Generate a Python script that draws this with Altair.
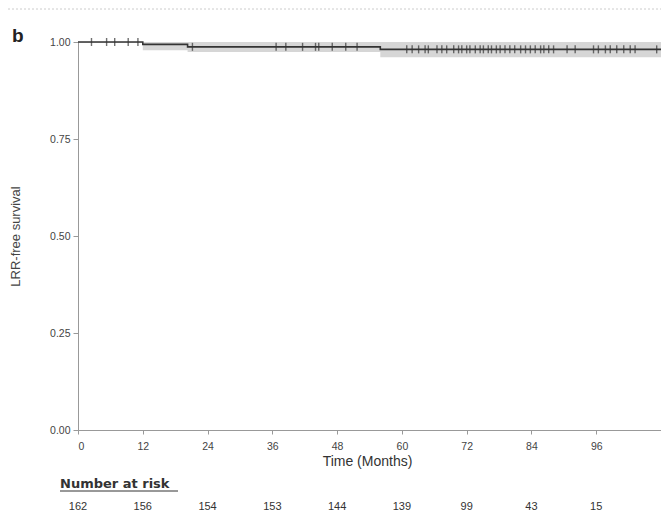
import altair as alt
import pandas as pd

# Kaplan-Meier step estimate (months, survival)
step_time = [0, 12.0, 20.3, 56.0, 108.0]
step_surv = [1.0, 0.9938, 0.9875, 0.981, 0.981]
ci_lower = [1.0, 0.979, 0.974, 0.961, 0.961]
ci_upper = [1.0, 1.0, 1.0, 1.0, 1.0]

# censoring times (months)
censor_times = [2.5, 5.3, 6.8, 9.3, 11.1, 21.2, 36.7, 38.5, 41.6, 44.0, 44.6, 47.1,
                49.6, 51.7, 60.9, 61.9, 63.1, 64.3, 64.9, 66.5, 67.4, 68.3, 69.6,
                70.5, 71.1, 72.0, 72.6, 73.6, 74.5, 75.1, 76.0, 76.6, 77.5, 78.2,
                79.1, 80.0, 80.9, 82.0, 82.9, 83.8, 84.7, 85.7, 86.3, 87.2, 88.1,
                90.6, 92.1, 95.5, 96.4, 97.7, 98.6, 99.8, 101.1, 102.3, 103.2,
                107.2]

risk_times = [0, 12, 24, 36, 48, 60, 72, 84, 96]
risk_counts = [162, 156, 154, 153, 144, 139, 99, 43, 15]
x_ticks = [0, 12, 24, 36, 48, 60, 72, 84, 96]
y_ticks = [0.0, 0.25, 0.5, 0.75, 1.0]


def surv_at(t):
    s = step_surv[0]
    for tt, ss in zip(step_time, step_surv):
        if t >= tt:
            s = ss
    return s


km = pd.DataFrame({"t": step_time, "s": step_surv, "lo": ci_lower, "hi": ci_upper})
cens = pd.DataFrame({"t": censor_times, "s": [surv_at(t) for t in censor_times]})
risk = pd.DataFrame({"t": risk_times, "n": [str(n) for n in risk_counts]})

NARROW = "Liberation Sans Narrow, Arial Narrow, Liberation Sans, sans-serif"
W, H = 583, 388

xscale = alt.Scale(domain=[0, 108], nice=False, zero=False)
yscale = alt.Scale(domain=[0, 1], nice=False)

xaxis = alt.Axis(values=x_ticks, format="d", title="Time (Months)", titleX=289,
                 titleFont="Liberation Sans", titleFontSize=14, titleFontWeight="normal",
                 titleColor="#333", titlePadding=3, labelFont=NARROW, labelFontSize=10.5,
                 labelColor="#444", tickColor="#999", domainColor="#999", tickSize=4,
                 labelPadding=7, grid=False)
yaxis = alt.Axis(values=y_ticks, format=".2f", title="LRR-free survival",
                 titleFont="Liberation Sans", titleFontSize=13, titleFontWeight="normal",
                 titleColor="#444", titlePadding=27, labelFont=NARROW, labelFontSize=10.5,
                 labelColor="#444", tickColor="#999", domainColor="#999", tickSize=5,
                 labelPadding=3, grid=False)

band = alt.Chart(km).mark_area(interpolate="step-after", color="#d6d6d6", opacity=1).encode(
    x=alt.X("t:Q", scale=xscale, axis=xaxis),
    y=alt.Y("lo:Q", scale=yscale, axis=yaxis),
    y2="hi:Q",
)
line = alt.Chart(km).mark_line(interpolate="step-after", color="#333333", strokeWidth=1.6).encode(
    x=alt.X("t:Q", scale=xscale),
    y=alt.Y("s:Q", scale=yscale),
)
ticks = alt.Chart(cens).mark_tick(orient="vertical", color="#333333", size=8, thickness=1.4).encode(
    x=alt.X("t:Q", scale=xscale),
    y=alt.Y("s:Q", scale=yscale),
)
risk_text = alt.Chart(risk).mark_text(font=NARROW, fontSize=11, color="#333", baseline="top").encode(
    x=alt.X("t:Q", scale=xscale),
    y=alt.value(H + 71),
    text="n:N",
)
risk_title = alt.Chart(pd.DataFrame({"l": ["Number at risk"]})).mark_text(
    font="DejaVu Sans", fontSize=13, fontWeight="bold", color="#333", align="left",
    baseline="alphabetic").encode(x=alt.value(-18), y=alt.value(H + 58), text="l:N")
risk_ul = alt.Chart(pd.DataFrame({"a": [0]})).mark_rule(color="#333", strokeWidth=1).encode(
    x=alt.value(-18), x2=alt.value(100), y=alt.value(H + 61))
panel = alt.Chart(pd.DataFrame({"l": ["b"]})).mark_text(
    font="Liberation Sans", fontSize=19, fontWeight="bold", color="#222", align="left",
    baseline="alphabetic").encode(x=alt.value(-66), y=alt.value(0), text="l:N")
top_border = alt.Chart(pd.DataFrame({"a": [0]})).mark_rule(
    color="#cccccc", strokeWidth=1, strokeDash=[2, 2]).encode(
    x=alt.value(-70), x2=alt.value(W), y=alt.value(-33))

chart = alt.layer(band, line, ticks, risk_text, risk_title, risk_ul, panel, top_border).properties(
    width=W, height=H,
    autosize=alt.AutoSizeParams(type="none"),
    padding={"left": 70, "top": 34, "right": 0, "bottom": 82},
).configure_view(stroke=None).configure(background="white")

chart.save("out.html", embed_options={"renderer": "svg", "actions": False})
